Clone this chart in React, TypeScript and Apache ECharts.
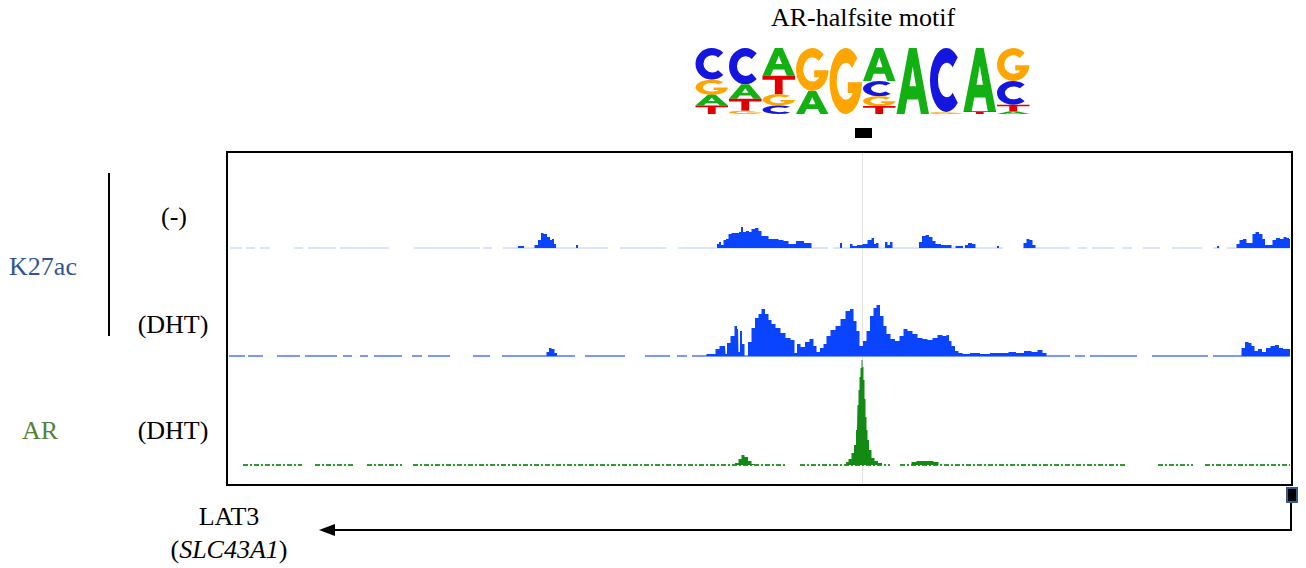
import React, { useEffect, useRef } from "react";
import * as echarts from "echarts";

// ---------- DATA ----------
// x positions are bin offsets along the genomic window (0..1061), heights in signal units
const xMax = 1061;
const trackNames = ["K27ac (-)", "K27ac (DHT)", "AR (DHT)"];
const trackMax = [100, 100, 110];

const k27acMinusPeaks: number[][] = [
  [288, 0], [290, 2], [294, 2], [296, 0],
  [304, 0], [307, 3], [311, 8], [313, 15], [316, 14], [320, 11], [322, 8], [324, 9], [326, 4], [328, 0],
  [346, 0], [348, 3], [350, 0],
  [487, 0], [489, 4], [491, 6], [493, 3], [496, 8], [498, 9], [501, 14], [504, 15], [509, 15], [511, 16], [513, 21],
  [515, 16], [519, 17], [521, 16], [524, 19], [528, 20], [531, 17], [534, 12], [538, 12], [541, 9], [548, 9],
  [551, 8], [558, 7], [561, 4], [566, 4], [568, 7], [574, 7], [576, 5], [581, 5], [584, 0],
  [610, 0], [612, 5], [614, 0], [620, 0], [622, 4], [625, 2], [631, 3], [636, 4], [641, 8], [644, 10], [646, 4],
  [648, 5], [651, 0], [655, 0], [657, 6], [660, 3], [662, 6], [665, 0],
  [689, 0], [691, 6], [695, 12], [698, 13], [702, 11], [705, 7], [708, 4], [716, 3], [721, 3], [724, 0],
  [729, 2], [733, 2], [735, 0], [737, 3], [741, 5], [745, 4], [748, 0],
  [767, 0], [769, 2], [771, 0],
  [793, 0], [796, 5], [799, 9], [802, 8], [805, 3], [808, 0],
  [987, 0], [989, 2], [991, 0],
  [1006, 0], [1009, 4], [1012, 8], [1016, 9], [1019, 5], [1022, 5], [1025, 14], [1028, 16], [1032, 14],
  [1035, 9], [1037, 3], [1042, 3], [1045, 8], [1049, 10], [1053, 9], [1056, 11], [1059, 10], [1061, 9],
];

const k27acDhtPeaks: number[][] = [
  [316, 0], [319, 4], [321, 8], [324, 7], [327, 3], [329, 0],
  [476, 0], [479, 2], [485, 2], [488, 7], [493, 10], [496, 10], [497, 2], [499, 13], [504, 20], [507, 30],
  [509, 27], [510, 4], [512, 25], [514, 12], [517, 0], [521, 14], [524, 28], [528, 38], [531, 42], [534, 47],
  [538, 42], [541, 36], [544, 32], [549, 28], [554, 23], [559, 18], [564, 16], [567, 3], [569, 12], [574, 9],
  [578, 14], [583, 17], [586, 10], [589, 4], [593, 8], [596, 12], [599, 20], [604, 26], [609, 30], [614, 37],
  [619, 45], [623, 47], [626, 35], [629, 25], [632, 10], [636, 15], [639, 25], [643, 40], [646, 48], [649, 51],
  [653, 40], [656, 30], [659, 22], [664, 17], [668, 15], [673, 20], [676, 27], [681, 25], [686, 22], [691, 18],
  [696, 17], [701, 16], [706, 18], [711, 21], [716, 20], [719, 21], [721, 15], [724, 10], [728, 5], [731, 3],
  [736, 2], [746, 3], [756, 2], [766, 3], [776, 3], [783, 4], [791, 3], [799, 5], [806, 4], [811, 6], [816, 3], [819, 0],
  [1011, 0], [1014, 8], [1018, 14], [1021, 13], [1024, 10], [1027, 5], [1031, 7], [1035, 4], [1039, 8],
  [1044, 10], [1048, 11], [1052, 8], [1056, 7], [1061, 7],
];

const arDhtPeaks: number[][] = [
  [504, 0], [508, 2], [511, 6], [514, 10], [517, 8], [521, 4], [524, 1], [527, 0],
  [616, 0], [618, 3], [621, 6], [624, 12], [626, 20], [628, 35], [629, 60], [630, 75], [631, 88], [632, 97],
  [633, 105], [634, 98], [635, 85], [636, 66], [637, 48], [638, 35], [639, 25], [641, 15], [644, 7], [647, 4],
  [651, 2], [655, 0],
  [681, 0], [684, 3], [691, 4], [701, 4], [708, 3], [711, 0],
];

// covered (non-gap) stretches of each track's baseline
const k27acMinusCovered: number[][] = [
  [1, 13], [17, 26], [31, 41], [65, 74], [79, 107], [111, 160], [185, 251], [254, 263], [274, 379], [391, 438],
  [449, 599], [604, 774], [794, 841], [848, 858], [863, 886], [893, 903], [914, 931], [943, 973], [984, 991], [998, 1061],
];
const k27acDhtCovered: number[][] = [
  [0, 16], [19, 34], [48, 71], [76, 108], [114, 123], [131, 139], [145, 173], [183, 193], [199, 221], [244, 261],
  [273, 346], [356, 396], [416, 441], [448, 458], [463, 841], [846, 856], [861, 908], [923, 979], [984, 1061],
];
const arDhtCovered: number[][] = [
  [14, 73], [86, 126], [138, 173], [184, 558], [571, 661], [671, 898], [929, 964], [976, 1061],
];

const motifTitle = "AR-halfsite motif";
const motifLetters: string[][] = [
  ["C", "G", "A", "T"], ["C", "A", "T", "G"], ["A", "T", "G", "C"], ["G", "A"], ["G"],
  ["A", "C", "G", "T"], ["A"], ["C", "G"], ["A", "T"], ["G", "C", "T", "A"],
];
const motifFreqs: number[][] = [
  [0.48, 0.23, 0.16, 0.13], [0.55, 0.22, 0.18, 0.05], [0.42, 0.28, 0.17, 0.13], [0.65, 0.35], [1],
  [0.5, 0.23, 0.15, 0.12], [1], [0.97, 0.03], [0.96, 0.04], [0.5, 0.36, 0.1, 0.04],
];

// ---------- STYLE ----------
const BLUE = "#0a44ff";
const GREEN = "#138a13";
const SERIF = "'Liberation Serif', 'Times New Roman', serif";
const letterColor: Record<string, string> = { A: "#13b013", C: "#1515e0", G: "#ffa500", T: "#e00000" };
const letterPath: Record<string, string> = {
  A: "M0 100 L38 0 L62 0 L100 100 L75 100 L67 78 L33 78 L25 100 Z M40 58 L60 58 L50 28 Z",
  C: "M85.36 14.64 A50 50 0 1 0 85.36 85.36 L69.8 69.8 A27 27 0 1 1 69.8 30.2 Z",
  G: "M85.36 14.64 A50 50 0 1 0 100 52 L56 52 L56 68 L72 68 A28 28 0 1 1 69.8 30.2 Z",
  T: "M0 0 L100 0 L100 22 L62 22 L62 100 L38 100 L38 22 L0 22 Z",
};

let shapesRegistered = false;
function registerLetters() {
  if (shapesRegistered) return;
  Object.keys(letterPath).forEach((k) => {
    echarts.graphic.registerShape("logo" + k, echarts.graphic.extendPath(letterPath[k], {}) as any);
  });
  shapesRegistered = true;
}

function buildLogo(): any[] {
  const els: any[] = [];
  const left = 695;
  const colW = 33.5;
  const top = 48;
  const total = 66;
  motifLetters.forEach((col, i) => {
    let y = top;
    col.forEach((L, j) => {
      const h = motifFreqs[i][j] * total;
      els.push({
        type: "logo" + L,
        x: left + i * colW + 0.5,
        y,
        scaleX: (colW - 1) / 100,
        scaleY: h / 100,
        style: { fill: letterColor[L] },
        silent: true,
      });
      y += h;
    });
  });
  return els;
}

function baselineSeries(idx: number, segs: number[][], color: string, width: number, dash: any) {
  return {
    type: "custom",
    xAxisIndex: idx,
    yAxisIndex: idx,
    silent: true,
    z: 1,
    data: segs.map((s) => [s[0], s[1], 0]),
    encode: { x: [0, 1], y: 2 },
    renderItem: (params: any, api: any) => {
      const a = api.coord([api.value(0), 0]);
      const b = api.coord([api.value(1), 0]);
      return {
        type: "line",
        shape: { x1: a[0], y1: a[1], x2: b[0], y2: b[1] },
        style: { stroke: color, lineWidth: width, lineDash: dash },
      };
    },
  };
}

function areaSeries(idx: number, data: number[][], color: string, name: string) {
  return {
    type: "line",
    name,
    xAxisIndex: idx,
    yAxisIndex: idx,
    data,
    step: "middle",
    symbol: "none",
    silent: true,
    z: 2,
    lineStyle: { width: 0, color },
    areaStyle: { color, opacity: 1 },
  };
}

function text(t: string, x: number, y: number, fill = "#000", extra: any = {}) {
  return {
    type: "text",
    x,
    y,
    silent: true,
    style: { text: t, fill, font: `26px ${SERIF}`, align: "center", verticalAlign: "middle", ...extra },
  };
}

export default function App() {
  const ref = useRef<HTMLDivElement>(null);
  useEffect(() => {
    registerLetters();
    const chart = echarts.init(ref.current!, null, { renderer: "svg" });
    const tops = [148, 256, 355];
    const option: any = {
      animation: false,
      grid: tops.map((t, i) => ({ left: 229, top: t, width: 1061, height: trackMax[i] })),
      xAxis: tops.map((_, i) => ({ type: "value", gridIndex: i, min: 0, max: xMax, show: false })),
      yAxis: tops.map((_, i) => ({ type: "value", gridIndex: i, min: 0, max: trackMax[i], show: false })),
      series: [
        baselineSeries(0, k27acMinusCovered, "#cfdbff", 1.5, null),
        areaSeries(0, k27acMinusPeaks, BLUE, trackNames[0]),
        baselineSeries(1, k27acDhtCovered, "#7b98ff", 2, null),
        areaSeries(1, k27acDhtPeaks, BLUE, trackNames[1]),
        baselineSeries(2, arDhtCovered, "#2f9a2f", 2, [5, 2, 2, 2]),
        areaSeries(2, arDhtPeaks, GREEN, trackNames[2]),
      ],
      graphic: [
        { type: "line", silent: true, z: 0, shape: { x1: 862.5, y1: 153, x2: 862.5, y2: 485 }, style: { stroke: "#e4e4e4", lineWidth: 1 } },
        { type: "rect", silent: true, shape: { x: 227, y: 152, width: 1065, height: 333 }, style: { fill: "none", stroke: "#000", lineWidth: 2 } },
        text(motifTitle, 863, 17),
        ...buildLogo(),
        { type: "rect", silent: true, shape: { x: 855, y: 128, width: 17, height: 10 }, style: { fill: "#000" } },
        text("K27ac", 43, 266, "#2f5597"),
        text("AR", 40, 430, "#548235"),
        text("(-)", 174, 216),
        text("(DHT)", 173, 324),
        text("(DHT)", 173, 430),
        { type: "line", silent: true, shape: { x1: 109, y1: 173, x2: 109, y2: 336 }, style: { stroke: "#000", lineWidth: 2 } },
        text("LAT3", 229, 516),
        {
          type: "text",
          x: 229,
          y: 549,
          silent: true,
          style: {
            text: "{n|(}{i|SLC43A1}{n|)}",
            align: "center",
            verticalAlign: "middle",
            rich: {
              n: { font: `26px ${SERIF}`, fill: "#000" },
              i: { font: `italic 26px ${SERIF}`, fill: "#000" },
            },
          },
        },
        { type: "polyline", silent: true, shape: { points: [[1291, 502], [1291, 530], [332, 530]] }, style: { stroke: "#000", lineWidth: 2, fill: "none" } },
        { type: "polygon", silent: true, shape: { points: [[319, 530], [335, 524], [335, 536]] }, style: { fill: "#000" } },
        { type: "rect", silent: true, shape: { x: 1287, y: 488, width: 10, height: 14 }, style: { fill: "#000", stroke: "#3b5b8e", lineWidth: 2 } },
      ],
    };
    chart.setOption(option);
    return () => chart.dispose();
  }, []);
  return <div ref={ref} style={{ position: "fixed", left: 0, top: 0, width: 1306, height: 568, background: "#fff" }} />;
}
